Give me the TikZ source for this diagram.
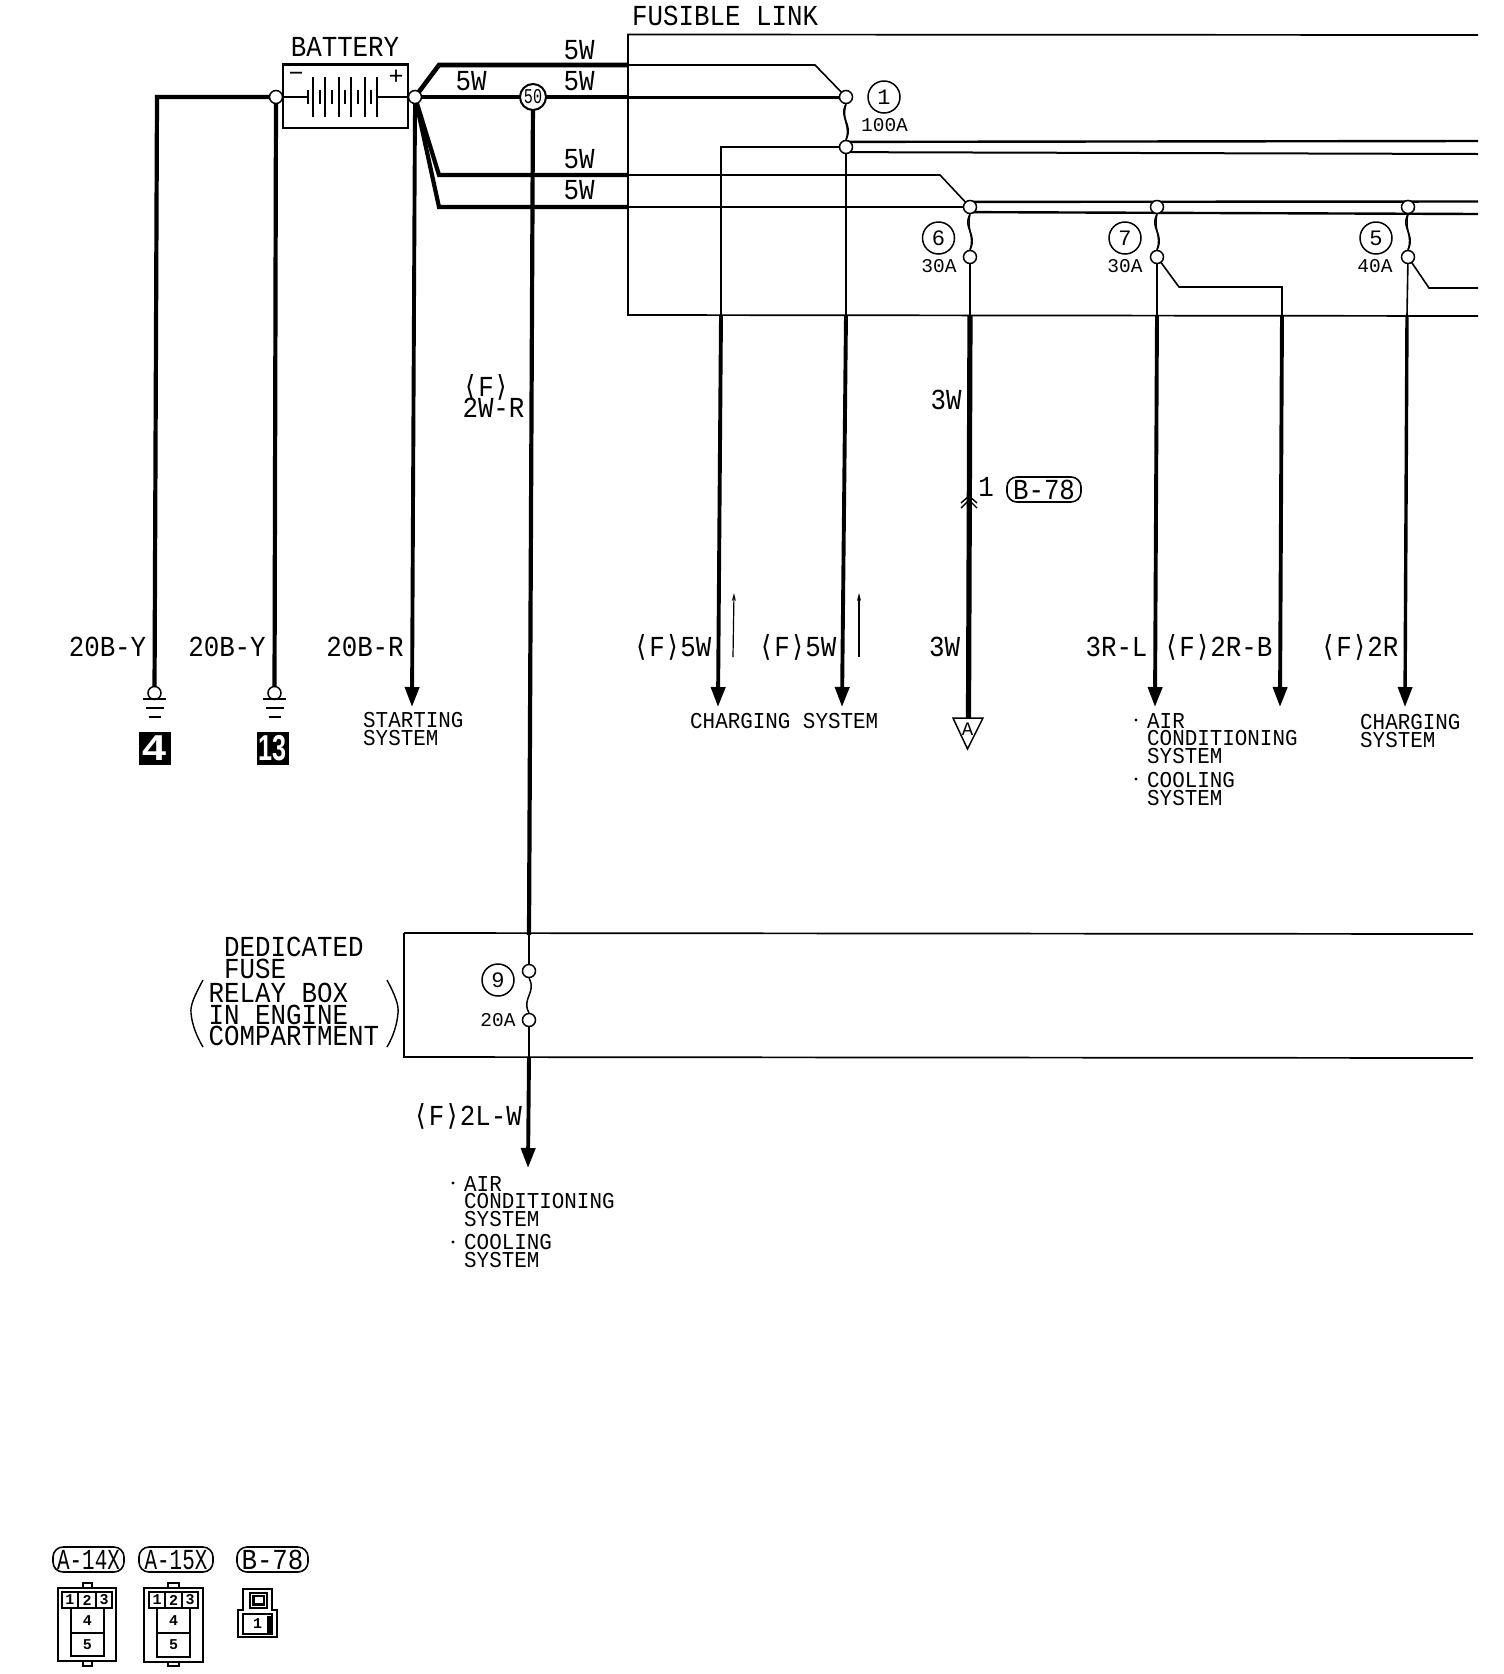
\documentclass[tikz,border=0pt]{standalone}
\usepackage{fontspec}
\usetikzlibrary{arrows.meta,backgrounds}
\newfontfamily\famL[FakeStretch=0.89]{Liberation Mono}
\newfontfamily\famM[FakeStretch=0.92]{Liberation Mono}
\newfontfamily\famS{Liberation Mono}
\newfontfamily\famN[FakeStretch=0.72]{Liberation Mono}
\newfontfamily\famT[FakeStretch=0.72]{Liberation Mono}
\newfontfamily\famB[FakeStretch=0.89]{DejaVu Sans Mono}
\newfontfamily\famK[FakeStretch=1.2]{Liberation Sans}
\newfontfamily\famKn[FakeStretch=0.7]{Liberation Sans}
\newcommand\fL{\famL\fontsize{29}{29}\selectfont}
\newcommand\fM{\famM\fontsize{22.7}{17.7}\selectfont}
\newcommand\fS{\famS\fontsize{19.5}{19.5}\selectfont}
\newcommand\lA{{\famB ⟨}}
\newcommand\rA{{\famB ⟩}}
\tikzset{
 labL/.style={font=\fL,inner sep=0pt,text height=19pt,text depth=0pt},
 stack/.style={font=\famL\fontsize{29}{21.6}\selectfont,inner sep=0pt,align=left,anchor=north west},
 sysM/.style={font=\fM,inner sep=0pt,align=left,anchor=north west},
 labS/.style={font=\fS,inner sep=0pt,text height=13pt,text depth=0pt},
 junc/.style={circle,draw,fill=white,line width=1.5pt,minimum size=13pt,inner sep=0pt},
 fnum/.style={circle,draw,line width=1.5pt,minimum size=32pt,inner sep=0pt,font=\famS\fontsize{22}{22}\selectfont},
 wthin/.style={line width=1.6pt},
 wmed/.style={line width=2.4pt},
 wthick/.style={line width=4.2pt},
 wfat/.style={line width=5.2pt},
 feed/.style={line width=3.9pt,-{Triangle[width=14pt,length=20pt]}},
 box/.style={line width=1.7pt},
 badge/.style={draw,line width=1.6pt,rounded corners=10pt,inner sep=0pt,font=\fL,text height=19pt,text depth=0pt},
 tag/.style={fill=black,text=white,inner sep=0pt,minimum width=32pt,minimum height=33pt},
 cell/.style={draw,line width=1.4pt,inner sep=0pt,font=\famS\bfseries\fontsize{15}{15}\selectfont},
 conn/.style={line width=1.5pt},
 gbar/.style={line width=1.4pt},
 fuse/.style={line width=1.5pt}
}
\begin{document}
\begin{tikzpicture}[x=1pt,y=-1pt]
\useasboundingbox (0,0) rectangle (1504,1674);
% junctions
\node[junc] (jneg) at (276,97) {};
\node[junc] (jpos) at (415,97) {};
\node[circle,draw,fill=white,line width=2pt,minimum width=26pt,inner sep=0pt,font=\famN\fontsize{21}{21}\selectfont] (n50) at (533,97) {50};
\node[junc] (f1a) at (846,97) {};
\node[junc] (f1b) at (846,147) {};
\node[junc] (f6a) at (970,207) {};
\node[junc] (f6b) at (970,257) {};
\node[junc] (f7a) at (1157,207) {};
\node[junc] (f7b) at (1157,257) {};
\node[junc] (f5a) at (1408,207) {};
\node[junc] (f5b) at (1408,257) {};
\node[junc] (f9a) at (529,971) {};
\node[junc] (f9b) at (529,1020) {};
\node[junc] (g1) at (154.5,693) {};
\node[junc] (g2) at (274.5,693) {};
% battery
\node[draw,line width=1.7pt,minimum width=125pt,minimum height=63pt,inner sep=0pt] (bat) at (345.5,96.5) {};
\draw[line width=2.6pt] (bat.north west) -- (bat.north east);
\node[labL] (batlab) at (345,47) {BATTERY};
\node[inner sep=0pt,font=\famS\fontsize{25}{25}\selectfont] (batm) at (296,77) {−};
\node[inner sep=0pt,font=\famS\fontsize{25}{25}\selectfont] (batp) at (396,77) {+};
\coordinate (bl) at (307,97);
\coordinate (br) at (378,97);
\foreach \x in {313,325,339,351,365,377} \draw[line width=1.4pt] (\x,77) -- (\x,117);
\foreach \x in {308,320,332,345,358,371} \draw[line width=1.1pt] (\x,90) -- (\x,104);
% fusible link box and wires behind nodes
\coordinate (u1) at (439,65); \coordinate (ue) at (628,65); \coordinate (u2) at (815,65);
\coordinate (me) at (628,97);
\coordinate (l1) at (439,175); \coordinate (le) at (628,175); \coordinate (l2) at (940,175);
\coordinate (k1) at (439,207); \coordinate (ke) at (628,207);
\coordinate (c1) at (721,147); \coordinate (c1e) at (721,315);
\coordinate (c2e) at (846,315);
\coordinate (a6e) at (970,315); \coordinate (a6t) at (968.5,718);
\coordinate (a7e) at (1157,315);
\coordinate (d71) at (1179,287); \coordinate (d72) at (1282,287); \coordinate (d73) at (1282,315);
\coordinate (a5e) at (1407,315);
\coordinate (d51) at (1429,288); \coordinate (d52) at (1478,288);
\coordinate (gl) at (157,97);
\coordinate (v50) at (529,935); \coordinate (v9e) at (529,1057);
\begin{scope}[on background layer]
 \draw[box] (1478,35) -- (628,34.5) -- (628,315) -- (1478,316);
 \draw[box] (404,933) -- (1473,934);
 \draw[box] (1473,1058) -- (404,1057) -- (404,933);
 \draw[wthick] (jneg.center) -- (gl) -- (g1.center);
 \draw[wthick] (jneg.center) -- (g2.center);
 \draw[line width=1.5pt] (jneg.center) -- (bl);
 \draw[line width=1.5pt] (br) -- (jpos.center);
 \draw[wthick,line width=4.6pt] (jpos.center) -- (u1) -- (ue);
 \draw[wthin] (ue) -- (u2) -- (f1a.center);
 \draw[wthick,line width=4.6pt] (jpos.center) -- (me);
 \draw[wmed,line width=3pt] (me) -- (f1a.center);
 \draw[wthick] (jpos.center) -- (l1) -- (le);
 \draw[wthin] (le) -- (l2) -- (f6a.center);
 \draw[wthick] (jpos.center) -- (k1) -- (ke);
 \draw[wthin] (ke) -- (f6a.center);
 \draw[wthick] (n50.center) -- (v50);
 \draw[wthin] (v50) -- (f9a.center);
 \draw[wthin] (f9b.center) -- (v9e);
 % bus bars
 \coordinate (bus1t) at (1478,141); \coordinate (bus1b) at (1478,154);
 \coordinate (bus2t) at (1478,201.5); \coordinate (bus2b) at (1478,214);
 \draw[wmed] (f1b.north east) ++(-2,0) -- (bus1t);
 \draw[wmed,line width=2pt] (f1b.south east) ++(-2,0) -- (bus1b);
 \draw[wmed] (f6a.north east) ++(-2,0) -- (bus2t);
 \draw[wmed] (f6a.south east) ++(-2,0) -- (bus2b);
 \draw[wthin] (f1b.center) -- (c1) -- (c1e);
 \draw[wthin] (f1b.center) -- (c2e);
 \draw[wthin] (f6b.center) -- (a6e);
 \draw[wfat] (a6e) -- (a6t);
 \draw[wthin] (f7b.center) -- (a7e);
 \draw[wthin] (f7b.center) -- (d71) -- (d72) -- (d73);
 \draw[wthin] (f5b.center) -- (a5e);
 \draw[wthin] (f5b.center) -- (d51) -- (d52);
\end{scope}
% fuse elements
\draw[fuse] (f1a.south) .. controls +(-8,14) and +(8,-16) .. (f1b.north);
\draw[fuse] (f1a.south) .. controls +(-5,16) and +(5,-14) .. (f1b.north);
\draw[fuse] (f6a.south) .. controls +(-8,14) and +(8,-16) .. (f6b.north);
\draw[fuse] (f6a.south) .. controls +(-4,16) and +(5,-14) .. (f6b.north);
\draw[fuse] (f7a.south) .. controls +(-8,14) and +(8,-16) .. (f7b.north);
\draw[fuse] (f7a.south) .. controls +(-4,16) and +(5,-14) .. (f7b.north);
\draw[fuse] (f5a.south) .. controls +(-8,14) and +(8,-16) .. (f5b.north);
\draw[fuse] (f5a.south) .. controls +(-4,16) and +(5,-14) .. (f5b.north);
\draw[fuse] (f9a.south) .. controls +(8,14) and +(-8,-14) .. (f9b.north);
% arrows
\coordinate (s1) at (412,707);
\draw[feed] (jpos.south) -- (s1);
\coordinate (c1s) at (718,707); \draw[feed] (c1e) -- (c1s);
\coordinate (c2s) at (842,707); \draw[feed] (c2e) -- (c2s);
\coordinate (a7s) at (1155,707); \draw[feed] (a7e) -- (a7s);
\coordinate (d7s) at (1280,707); \draw[feed] (d73) -- (d7s);
\coordinate (a5s) at (1405,707); \draw[feed,line width=3.4pt] (a5e) -- (a5s);
\coordinate (a9s) at (528,1168); \draw[feed] (v9e) -- (a9s);
% small arrows
\coordinate (sa1) at (733,657); \coordinate (sa1t) at (734,593);
\coordinate (sa2) at (859,657); \coordinate (sa2t) at (859,593);
\draw[line width=1.2pt,-{Stealth[length=8pt,width=4pt]}] (sa1) -- (sa1t);
\draw[line width=1.2pt,-{Stealth[length=8pt,width=4pt]}] (sa2) -- (sa2t);
% triangle A
\draw[line width=1.5pt,fill=white] (953,718) -- (983,718) -- (967.5,749) -- cycle;
\node[inner sep=0pt,font=\famS\fontsize{19}{19}\selectfont] (tA) at (967.5,729) {A};
% chevrons
\draw[line width=1.4pt] (961,503) -- (969,496) -- (977,503);
\draw[line width=1.4pt] (961,508) -- (969,500) -- (977,508);
% grounds
\foreach \n/\x in {1/154.5,2/274.5}{
 \draw[line width=2pt] (\x-11.5,699) -- (\x+11.5,699);
 \draw[gbar] (\x-9,708) -- (\x+9,708);
 \draw[line width=1.8pt] (\x-6,717) -- (\x+6,717);
}
\node[tag,font=\famK\bfseries\fontsize{36}{36}\selectfont] (t4) at (155,748.5) {4};
\node[tag,font=\famKn\bfseries\fontsize{36}{36}\selectfont] (t13) at (273,748.5) {13};
% labels top
\node[labL,anchor=west] (fl) at (632,16) {FUSIBLE LINK};
\node[labL] (w1) at (579,50) {5W};
\node[labL] (w2) at (579,81) {5W};
\node[labL] (w3) at (471,81) {5W};
\node[labL] (w4) at (579,159) {5W};
\node[labL] (w5) at (579,190) {5W};
\node[labL] (fF) at (486,387) {\lA F\rA};
\node[labL] (w2wr) at (493.5,408) {2W-R};
\node[labL] (w3w) at (946,400) {3W};
\node[labL] (con1) at (986,487) {1};
\node[badge,minimum width=74pt,minimum height=25pt] (b78) at (1044,489.5) {B-78};
% fuse labels
\node[fnum] (n1) at (884,97) {1};
\node[labS] (a100) at (884.5,125) {100A};
\node[fnum] (n6) at (938.5,238) {6};
\node[labS] (a30a) at (939,266) {30A};
\node[fnum] (n7) at (1125,238) {7};
\node[labS] (a30b) at (1125,266) {30A};
\node[fnum] (n5) at (1376,238) {5};
\node[labS] (a40) at (1375,266) {40A};
\node[fnum] (n9) at (498,980) {9};
\node[labS] (a20) at (498,1020) {20A};
% wire labels
\node[labL] (l1a) at (107.5,647) {20B-Y};
\node[labL] (l2a) at (227,647) {20B-Y};
\node[labL] (l3a) at (365,647) {20B-R};
\node[labL] (l4a) at (672.5,647) {\lA F\rA 5W};
\node[labL] (l5a) at (797.5,647) {\lA F\rA 5W};
\node[labL] (l6a) at (944.5,647) {3W};
\node[labL] (l7a) at (1116.5,647) {3R-L};
\node[labL] (l8a) at (1218,647) {\lA F\rA 2R-B};
\node[labL] (l9a) at (1359.5,647) {\lA F\rA 2R};
\node[labL] (l10a) at (467.5,1116) {\lA F\rA 2L-W};
% systems
\node[sysM] (st) at (363,712) {STARTING\\SYSTEM};
\node[sysM] (ch) at (690,713) {CHARGING SYSTEM};
\node[sysM] (ac) at (1147,713) {AIR\\CONDITIONING\\SYSTEM};
\node[sysM] (cs) at (1147,772) {COOLING\\SYSTEM};
\node[sysM] (ch2) at (1360,714) {CHARGING\\SYSTEM};
\node[sysM] (ac2) at (464,1176) {AIR\\CONDITIONING\\SYSTEM};
\node[sysM] (cs2) at (464,1234) {COOLING\\SYSTEM};
\foreach \x/\y in {1136/720,1136/779,453/1183,453/1242} \fill (\x,\y) circle (1.7pt);
% dedicated
\node[stack] (ded) at (224,937) {DEDICATED\\FUSE};
\node[stack] (rel) at (208.5,983) {RELAY BOX\\IN ENGINE\\COMPARTMENT};
\draw[line width=1.4pt] (203,980) .. controls (195,995) and (190,1005) .. (191,1013) .. controls (192,1025) and (197,1037) .. (203,1047);
\draw[line width=1.4pt] (387,980) .. controls (395,995) and (399,1005) .. (398,1013) .. controls (397,1025) and (393,1037) .. (387,1047);
% bottom connectors
\node[badge,font=\famT\fontsize{29}{29}\selectfont,minimum width=71pt,minimum height=25pt] (ba14) at (88.5,1559.5) {A-14X};
\node[badge,font=\famT\fontsize{29}{29}\selectfont,minimum width=74pt,minimum height=25pt] (ba15) at (176,1559.5) {A-15X};
\node[badge,minimum width=71pt,minimum height=25pt] (bb78) at (272.5,1559.5) {B-78};
% A-14X
\draw[conn] (58,1588) rectangle (116,1661);
\draw[conn] (83,1588) -- (83,1583) -- (92,1583) -- (92,1588);
\draw[conn] (83,1661) -- (83,1666) -- (92,1666) -- (92,1661);
\node[cell,minimum width=16pt,minimum height=16pt] (a1) at (70,1600) {1};
\node[cell,minimum width=18pt,minimum height=16pt] (a2) at (87,1600) {2};
\node[cell,minimum width=16pt,minimum height=16pt] (a3) at (104,1600) {3};
\node[cell,minimum width=33pt,minimum height=25pt] (a4) at (87.5,1620.5) {4};
\node[cell,minimum width=33pt,minimum height=23pt] (a5) at (87.5,1644.5) {5};
% A-15X
\draw[conn] (144,1588) rectangle (203,1662);
\draw[conn] (168,1588) -- (168,1583) -- (179,1583) -- (179,1588);
\draw[conn] (168,1662) -- (168,1666) -- (179,1666) -- (179,1662);
\node[cell,minimum width=16pt,minimum height=16pt] (b1) at (157,1600) {1};
\node[cell,minimum width=17pt,minimum height=16pt] (b2) at (173.5,1600) {2};
\node[cell,minimum width=16pt,minimum height=16pt] (b3) at (190,1600) {3};
\node[cell,minimum width=33pt,minimum height=25pt] (b4) at (173.5,1620.5) {4};
\node[cell,minimum width=33pt,minimum height=24pt] (b5) at (173.5,1645) {5};
% B-78
\draw[conn] (243,1610) -- (243,1589) -- (272,1589) -- (272,1610) -- (277,1610) -- (277,1637) -- (238,1637) -- (238,1610) -- cycle;
\draw[conn] (250,1593) rectangle (267,1608);
\draw[line width=1.6pt] (254,1596) -- (254,1604) -- (263,1604);
\draw[conn] (253,1596) rectangle (264,1605);
\node[draw,line width=1.4pt,minimum width=29pt,minimum height=20pt,inner sep=0pt,font=\famS\bfseries\fontsize{15}{15}\selectfont] (c78) at (257.5,1624) {1};
\fill (267,1615.5) rectangle (272,1633);
\end{tikzpicture}
\end{document}
